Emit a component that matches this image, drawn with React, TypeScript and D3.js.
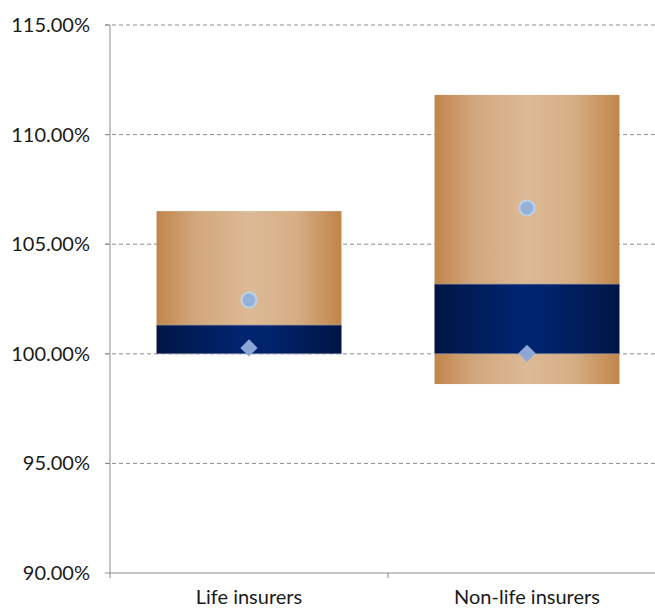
import React from "react";
import * as d3 from "d3";

// Solvency ratio ranges by insurer type
const categories = ["Life insurers", "Non-life insurers"];
const rangeLow = [100.0, 98.62];
const rangeHigh = [106.51, 111.81];
const bandLow = [100.0, 100.0];
const bandHigh = [101.31, 103.18];
const meanValues = [102.45, 106.65];
const medianValues = [100.27, 100.02];
const yTicks = [90, 95, 100, 105, 110, 115];

const W = 655;
const H = 610;
const M = { left: 110, top: 25, bottom: 573, catWidth: 278 };

export default function App() {
  const y = d3.scaleLinear().domain([90, 115]).range([M.bottom, M.top]);
  const x = d3
    .scaleBand<string>()
    .domain(categories)
    .range([M.left, M.left + M.catWidth * categories.length])
    .paddingInner(0.335)
    .paddingOuter(0.1675);
  const font = "Lato, 'Open Sans', sans-serif";
  const diamond = d3.symbol().type(d3.symbolDiamond2).size(190)();

  return (
    <svg
      width={W}
      height={H}
      style={{ position: "absolute", left: 0, top: 0, background: "#fff" }}
    >
      <defs>
        <linearGradient id="gold" x1="0" x2="1" y1="0" y2="0">
          <stop offset="0" stopColor="#C0854B" />
          <stop offset="0.2" stopColor="#D1A57A" />
          <stop offset="0.5" stopColor="#DCBA96" />
          <stop offset="0.75" stopColor="#D6AE85" />
          <stop offset="1" stopColor="#C0854B" />
        </linearGradient>
        <linearGradient id="navy" x1="0" x2="1" y1="0" y2="0">
          <stop offset="0" stopColor="#001545" />
          <stop offset="0.45" stopColor="#002470" />
          <stop offset="0.6" stopColor="#00236C" />
          <stop offset="1" stopColor="#001545" />
        </linearGradient>
      </defs>

      {/* gridlines and y labels */}
      {yTicks.map((t) => (
        <g key={t}>
          {t !== 90 && (
            <line
              x1={M.left - 5}
              x2={W}
              y1={y(t)}
              y2={y(t)}
              stroke="#8c8c8c"
              strokeDasharray="4,3"
              strokeWidth={1}
            />
          )}
          <line x1={M.left - 5} x2={M.left} y1={y(t)} y2={y(t)} stroke="#8c8c8c" />
          <text
            x={M.left - 20}
            y={y(t)}
            dy="0.35em"
            textAnchor="end"
            fontFamily={font}
            fontSize={20}
            fill="#1a1a1a"
          >
            {t.toFixed(2) + "%"}
          </text>
        </g>
      ))}

      {/* bars */}
      {categories.map((c, i) => {
        const x0 = x(c)!;
        const bw = x.bandwidth();
        const cx = x0 + bw / 2;
        return (
          <g key={c}>
            <rect
              x={x0}
              width={bw}
              y={y(rangeHigh[i])}
              height={y(rangeLow[i]) - y(rangeHigh[i])}
              fill="url(#gold)"
            />
            <rect
              x={x0}
              width={bw}
              y={y(bandHigh[i])}
              height={y(bandLow[i]) - y(bandHigh[i])}
              fill="url(#navy)"
              stroke="#8a93a8"
              strokeWidth={0.6}
            />
            <circle
              cx={cx}
              cy={y(meanValues[i])}
              r={7.5}
              fill="#93B2DA"
              stroke="#BDD0EA"
              strokeWidth={2}
            />
            <path
              d={diamond!}
              transform={`translate(${cx},${y(medianValues[i])})`}
              fill="#8CA7D5"
            />
          </g>
        );
      })}

      {/* axes */}
      <line x1={M.left} x2={M.left} y1={M.top} y2={M.bottom} stroke="#8c8c8c" />
      <line x1={M.left} x2={W} y1={M.bottom} y2={M.bottom} stroke="#8c8c8c" />
      {[0, 1, 2].map((k) => (
        <line
          key={k}
          x1={M.left + k * M.catWidth}
          x2={M.left + k * M.catWidth}
          y1={M.bottom}
          y2={M.bottom + 5}
          stroke="#8c8c8c"
        />
      ))}
      {categories.map((c) => (
        <text
          key={c}
          x={x(c)! + x.bandwidth() / 2}
          y={604}
          textAnchor="middle"
          fontFamily={font}
          fontSize={20}
          fill="#1a1a1a"
        >
          {c}
        </text>
      ))}
    </svg>
  );
}
